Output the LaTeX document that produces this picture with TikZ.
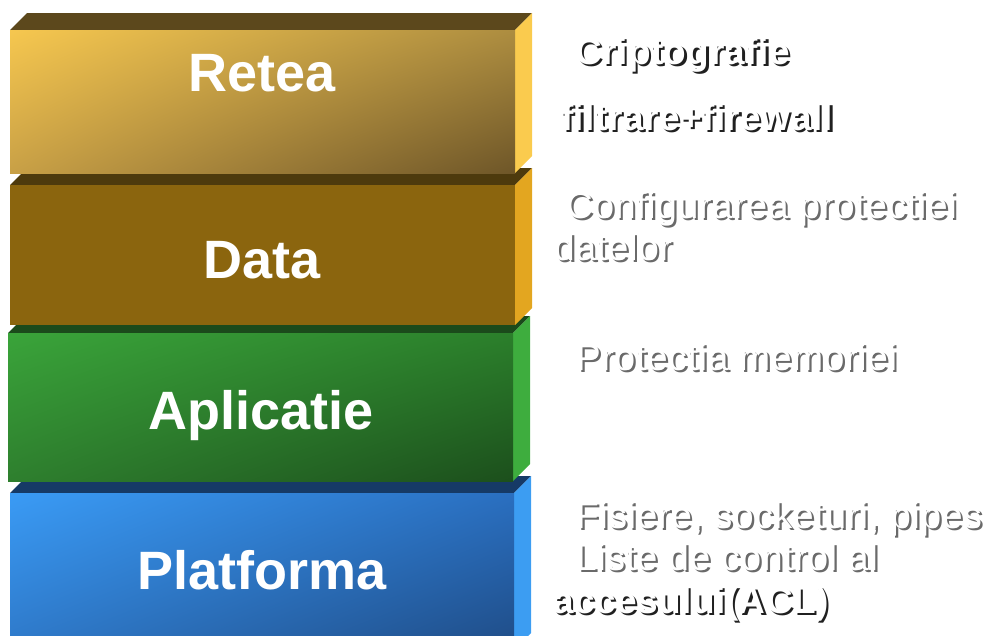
\documentclass[tikz,border=0pt]{standalone}
\usepackage{fontspec}
\setmainfont{Liberation Sans}
\newfontfamily\notefont[LetterSpace=2.1]{Liberation Sans}
\newfontfamily\notefontb[LetterSpace=1.3]{Liberation Sans Bold}
\usetikzlibrary{shadings}
\definecolor{rtop}{HTML}{5C481C}
\definecolor{rside}{HTML}{FACB4E}
\definecolor{rul}{HTML}{F6C74F}
\definecolor{rur}{HTML}{AD8D40}
\definecolor{rll}{HTML}{C8A046}
\definecolor{rlr}{HTML}{6E5628}
\definecolor{dfront}{HTML}{8B650E}
\definecolor{dtop}{HTML}{4D3A0D}
\definecolor{dside}{HTML}{E3A620}
\definecolor{atop}{HTML}{1B4A1B}
\definecolor{aside}{HTML}{3EAD3E}
\definecolor{aul}{HTML}{3AA43A}
\definecolor{aur}{HTML}{2B7F2B}
\definecolor{all}{HTML}{2E7F2E}
\definecolor{alr}{HTML}{1C4F1C}
\definecolor{ptop}{HTML}{163A66}
\definecolor{pside}{HTML}{3C9DF2}
\definecolor{pul}{HTML}{3A9BF5}
\definecolor{pur}{HTML}{2A6FC0}
\definecolor{pll}{HTML}{2E78C8}
\definecolor{plr}{HTML}{1F4C86}
\definecolor{shdark}{HTML}{202020}
\definecolor{shgray}{HTML}{6A6A6A}
\newcommand\embtext[2]{\makebox[0pt][l]{\hspace{2.2pt}\raisebox{-2.2pt}{\textcolor{#1}{#2}}}\textcolor{white}{#2}}
\begin{document}
\begin{tikzpicture}[x=1pt,y=-1pt]
\tikzset{
  blocklabel/.style={text=white,font=\fontsize{54}{60}\selectfont\bfseries,anchor=base,inner sep=0pt},
  note/.style={anchor=base west,inner sep=0pt,font=\notefont\fontsize{37}{42}\selectfont},
  notebold/.style={note,font=\notefontb\fontsize{37}{42}\selectfont}
}
\useasboundingbox (0,0) rectangle (988,635);
% ---- Platforma (bottom) ----
\fill[ptop] (10,493) -- (27,476) -- (531,476) -- (514,493) -- cycle;
\fill[pside] (514,493) -- (531,476) -- (531,633) -- (514,650) -- cycle;
\shade[upper left=pul, upper right=pur, lower left=pll, lower right=plr] (10,493) rectangle (514,650);
\node[blocklabel] (lp) at (262,589) {Platforma};
% ---- Aplicatie ----
\fill[atop] (8,333) -- (25,316) -- (530,316) -- (513,333) -- cycle;
\fill[aside] (513,333) -- (530,316) -- (530,464) -- (513,481) -- cycle;
\shade[upper left=aul, upper right=aur, lower left=all, lower right=alr] (8,333) rectangle (513,481);
\node[blocklabel] (la) at (261,429) {Aplicatie};
% ---- Data ----
\fill[dtop] (10,185) -- (27,168) -- (532,168) -- (515,185) -- cycle;
\fill[dside] (515,185) -- (532,168) -- (532,308) -- (515,325) -- cycle;
\fill[dfront] (10,185) rectangle (515,325);
\node[blocklabel] (ld) at (262,278) {Data};
% ---- Retea (top) ----
\fill[rtop] (10,30) -- (27,13) -- (532,13) -- (515,30) -- cycle;
\fill[rside] (515,30) -- (532,13) -- (532,156) -- (515,173) -- cycle;
\shade[upper left=rul, upper right=rur, lower left=rll, lower right=rlr] (10,30) rectangle (515,173);
\node[blocklabel] (lr) at (262,91) {Retea};
% ---- notes ----
\node[notebold] (n1) at (575,64) {\embtext{shdark}{Criptografie}};
\node[notebold] (n2) at (561,130) {\embtext{shdark}{filtrare+firewall}};
\node[note] (n3) at (566,218) {\embtext{shgray}{Configurarea protectiei}};
\node[note] (n4) at (554,260) {\embtext{shgray}{datelor}};
\node[note] (n5) at (576,370) {\embtext{shgray}{Protectia memoriei}};
\node[note] (n6) at (576,528) {\embtext{shgray}{Fisiere, socketuri, pipes}};
\node[note] (n7) at (576,570) {\embtext{shgray}{Liste de control al}};
\node[notebold] (n8) at (553,613) {\embtext{shdark}{accesului(ACL)}};
\end{tikzpicture}
\end{document}
